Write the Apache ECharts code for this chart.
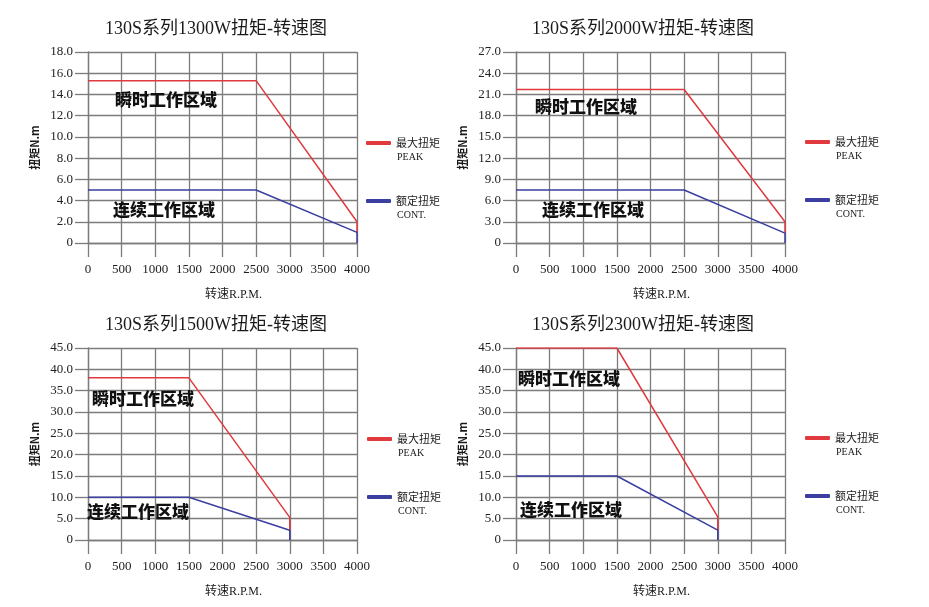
<!DOCTYPE html>
<html>
<head>
<meta charset="utf-8">
<script src="https://cdn.jsdelivr.net/npm/echarts@6/dist/echarts.min.js"></script>
<style>
  html, body { margin: 0; padding: 0; background: #fff; }
  #chart { width: 929px; height: 607px; }
</style>
</head>
<body>
<div id="chart"></div>
<script>
// 四个子图的数据：转速 (rpm) 与扭矩 (N.m)
const titles = ['130S系列1300W扭矩-转速图', '130S系列2000W扭矩-转速图', '130S系列1500W扭矩-转速图', '130S系列2300W扭矩-转速图']

const speed1300 = [0, 2500, 4000, 4000]
const peak1300 = [15.3, 15.3, 2.0, 1.0]
const cont1300 = [5.0, 5.0, 1.0, 0]

const speed2000 = [0, 2500, 4000, 4000]
const peak2000 = [21.7, 21.7, 3.0, 1.4]
const cont2000 = [7.5, 7.5, 1.4, 0]

const speed1500 = [0, 1500, 3000, 3000]
const peak1500 = [38.0, 38.0, 5.3, 2.3]
const cont1500 = [10.0, 10.0, 2.3, 0]

const speed2300 = [0, 1500, 3000, 3000]
const peak2300 = [45.0, 45.0, 5.4, 2.3]
const cont2300 = [15.0, 15.0, 2.3, 0]

const yMax = [18, 27, 45, 45]
const yStep = [2, 3, 5, 5]
const xTicks = [0, 4000, 500]

const PEAK_NAME = '最大扭矩'
const CONT_NAME = '额定扭矩'
const RED = '#e03a3e'
const BLUE = '#3a3fa0'
const GRID = '#7c7c7c'
const SERIF = '"Liberation Serif", "DejaVu Serif", "Noto Sans CJK SC", serif'
const CJK = '"Noto Sans CJK SC", sans-serif'

// 子图布局
const panels = [
  { left: 88, top: 52, height: 191, titleLeft: 105, titleTop: 20, legendLeft: 366, legendTop: 137, speed: speed1300, peak: peak1300, cont: cont1300 },
  { left: 516, top: 52, height: 191, titleLeft: 532, titleTop: 20, legendLeft: 805, legendTop: 136, speed: speed2000, peak: peak2000, cont: cont2000 },
  { left: 88, top: 348, height: 192, titleLeft: 105, titleTop: 316, legendLeft: 367, legendTop: 433, speed: speed1500, peak: peak1500, cont: cont1500 },
  { left: 516, top: 348, height: 192, titleLeft: 532, titleTop: 316, legendLeft: 805, legendTop: 432, speed: speed2300, peak: peak2300, cont: cont2300 }
]

// 区域说明文字
const zoneLabels = [
  { text: '瞬时工作区域', x: 115, y: 100 }, { text: '连续工作区域', x: 113, y: 210 },
  { text: '瞬时工作区域', x: 535, y: 107 }, { text: '连续工作区域', x: 542, y: 210 },
  { text: '瞬时工作区域', x: 92, y: 399 }, { text: '连续工作区域', x: 87, y: 512 },
  { text: '瞬时工作区域', x: 518, y: 379 }, { text: '连续工作区域', x: 520, y: 510 }
]

function pairs(xs, ys) {
  return xs.map((x, i) => [x, ys[i]])
}

const chart = echarts.init(document.getElementById('chart'), null, { renderer: 'canvas' })

const option = {
  backgroundColor: '#fff',
  animation: false,
  title: panels.map((p, i) => ({
    text: titles[i],
    left: p.titleLeft,
    top: p.titleTop,
    padding: 0,
    textStyle: { fontFamily: SERIF, fontSize: 18, fontWeight: 'normal', color: '#1a1a1a' }
  })),
  legend: panels.map(p => ({
    data: [PEAK_NAME, CONT_NAME],
    orient: 'vertical',
    left: p.legendLeft,
    top: p.legendTop,
    padding: 0,
    itemGap: 33,
    itemWidth: 25,
    itemHeight: 4,
    icon: 'roundRect',
    selectedMode: false,
    formatter: name => name === PEAK_NAME ? '{a|最大扭矩}\n{b|PEAK}' : '{a|额定扭矩}\n{b|CONT.}',
    textStyle: {
      padding: [14, 0, 0, 0],
      rich: {
        a: { fontFamily: CJK, fontSize: 11, lineHeight: 14, color: '#1a1a1a' },
        b: { fontFamily: SERIF, fontSize: 10, lineHeight: 15, color: '#1a1a1a', padding: [0, 0, 0, 1] }
      }
    }
  })),
  grid: panels.map(p => ({ left: p.left, top: p.top, width: 269, height: p.height })),
  xAxis: panels.map((p, i) => ({
    type: 'value',
    gridIndex: i,
    min: xTicks[0],
    max: xTicks[1],
    interval: xTicks[2],
    name: '转速R.P.M.',
    nameLocation: 'middle',
    nameGap: 46,
    nameTextStyle: { fontFamily: SERIF, fontSize: 12, color: '#1a1a1a', padding: [0, 0, 0, 22] },
    axisLine: { lineStyle: { color: GRID, width: 1.3 } },
    axisTick: { show: true, inside: false, length: 14, lineStyle: { color: GRID, width: 1.3 } },
    axisLabel: { margin: 20, fontFamily: SERIF, fontSize: 13, color: '#222', formatter: v => String(v) },
    splitLine: { show: true, lineStyle: { color: GRID, width: 1.3 } }
  })),
  yAxis: panels.map((p, i) => ({
    type: 'value',
    gridIndex: i,
    min: 0,
    max: yMax[i],
    interval: yStep[i],
    name: '扭矩N.m',
    nameLocation: 'middle',
    nameGap: 48,
    nameTextStyle: { fontFamily: CJK, fontSize: 11, fontWeight: 'bold', color: '#1a1a1a' },
    axisLine: { show: true, lineStyle: { color: GRID, width: 1.3 } },
    axisTick: { show: true, inside: false, length: 13, lineStyle: { color: GRID, width: 1.3 } },
    axisLabel: {
      margin: 15,
      fontFamily: SERIF,
      fontSize: 13,
      color: '#222',
      formatter: v => v === 0 ? '0' : v.toFixed(1)
    },
    splitLine: { show: true, lineStyle: { color: GRID, width: 1.3 } }
  })),
  graphic: zoneLabels.map(z => ({
    type: 'text',
    left: z.x,
    top: z.y - 9,
    z: 100,
    style: { text: z.text, fontFamily: CJK, fontSize: 17, fontWeight: 900, fill: '#111' }
  })),
  series: []
}

panels.forEach((p, i) => {
  option.series.push({
    name: PEAK_NAME,
    type: 'line',
    xAxisIndex: i,
    yAxisIndex: i,
    data: pairs(p.speed, p.peak),
    symbol: 'none',
    color: RED,
    lineStyle: { color: RED, width: 1.5 }
  })
  option.series.push({
    name: CONT_NAME,
    type: 'line',
    xAxisIndex: i,
    yAxisIndex: i,
    data: pairs(p.speed, p.cont),
    symbol: 'none',
    color: BLUE,
    lineStyle: { color: BLUE, width: 1.5 }
  })
})

chart.setOption(option)
</script>
</body>
</html>
